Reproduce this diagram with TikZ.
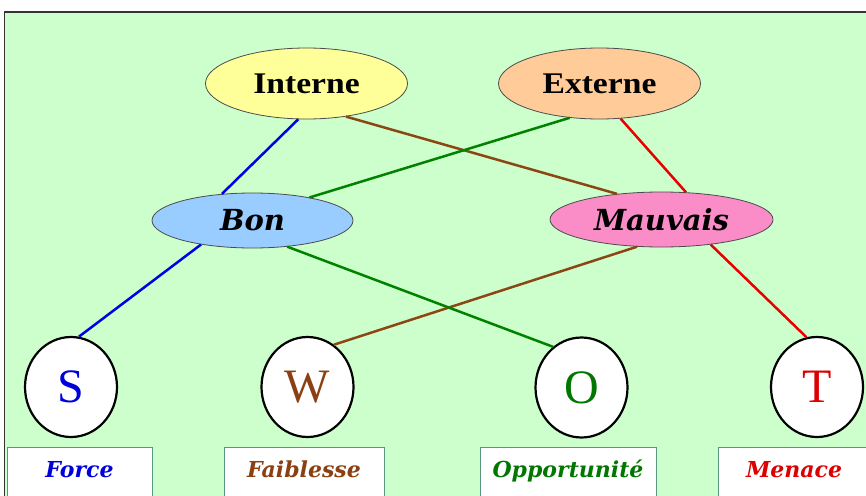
\documentclass[tikz,border=0pt]{standalone}
\usepackage{fontspec}
\setmainfont{Liberation Serif}
\newfontfamily\georgia{DejaVu Serif}
\newfontfamily\headfont[FakeStretch=1.12]{Liberation Serif}
\usetikzlibrary{shapes.geometric}
\definecolor{bg}{RGB}{204,255,204}
\definecolor{cint}{RGB}{255,255,153}
\definecolor{cext}{RGB}{255,204,153}
\definecolor{cbon}{RGB}{153,204,255}
\definecolor{cmau}{RGB}{250,140,200}
\definecolor{cS}{RGB}{0,0,220}
\definecolor{cW}{RGB}{139,64,19}
\definecolor{cO}{RGB}{0,120,0}
\definecolor{cT}{RGB}{220,0,0}
\definecolor{lblue}{RGB}{0,0,230}
\definecolor{lbrown}{RGB}{140,70,20}
\definecolor{lgreen}{RGB}{0,130,0}
\definecolor{lred}{RGB}{230,0,0}
\definecolor{boxline}{RGB}{90,150,130}
\tikzset{
  topell/.style={ellipse, draw=black!70, line width=0.8pt, inner sep=0pt,
    minimum width=202pt, minimum height=71pt,
    font=\headfont\bfseries\fontsize{30}{30}\selectfont},
  midell/.style={ellipse, draw=black!70, line width=0.8pt, inner sep=0pt,
    minimum height=55pt,
    font=\georgia\bfseries\itshape\fontsize{29}{29}\selectfont},
  letter/.style={ellipse, draw=black, line width=2.2pt, fill=white,
    minimum width=92pt, minimum height=100pt, inner sep=0pt,
    font=\fontsize{48}{48}\selectfont},
  lab/.style={rectangle, draw=boxline, line width=0.8pt, fill=white, anchor=north,
    inner xsep=0pt, inner ysep=14pt, text height=16pt, text depth=40pt,
    font=\georgia\bfseries\itshape\fontsize{22}{22}\selectfont},
  link/.style={line width=2.5pt}
}
\begin{document}
\begin{tikzpicture}[x=1pt,y=1pt]
\useasboundingbox (0,0) rectangle (866,-495);
\clip (0,0) rectangle (866,-495);
\fill[white] (0,0) rectangle (866,-495);
\draw[fill=bg, draw=black!80, line width=1.2pt] (4.5,-12) rectangle (900,-520);

\node[topell, fill=cint] (interne) at (306.5,-83.5) {Interne};
\node[topell, fill=cext] (externe) at (599.5,-83.5) {Externe};
\node[midell, fill=cbon, minimum width=201pt] (bon) at (252.5,-220.5) {Bon};
\node[midell, fill=cmau, minimum width=223pt] (mauvais) at (661.5,-219.5) {Mauvais};

\node[letter, text=cS] (s) at (71,-387) {S};
\node[letter, text=cW] (w) at (307.5,-387) {W};
\node[letter, text=cO] (o) at (581.5,-387.5) {O};
\node[letter, text=cT] (t) at (817,-387) {T};

\node[lab, text=cS, minimum width=145pt] (force) at (79.5,-447) {Force};
\node[lab, text=cW, minimum width=160pt] (faib) at (304,-447) {Faiblesse};
\node[lab, text=cO, minimum width=176pt] (opp) at (568,-447) {Opportunité};
\node[lab, text=cT, minimum width=152pt] (men) at (794,-447) {Menace};

\draw[link, lblue] (interne.-103) -- (bon.139.5);
\draw[link, lblue] (bon.-155) -- (s.81.5);
\draw[link, lbrown] (interne.-40.2) -- (mauvais.150.5);
\draw[link, lbrown] (mauvais.-132.8) -- (w.58.7);
\draw[link, lgreen] (externe.-131.4) -- (bon.22.4);
\draw[link, lgreen] (bon.-37) -- (o.125.2);
\draw[link, lred] (externe.-59.3) -- (mauvais.48.4);
\draw[link, lred] (mauvais.-27.5) -- (t.102.5);
\end{tikzpicture}
\end{document}
